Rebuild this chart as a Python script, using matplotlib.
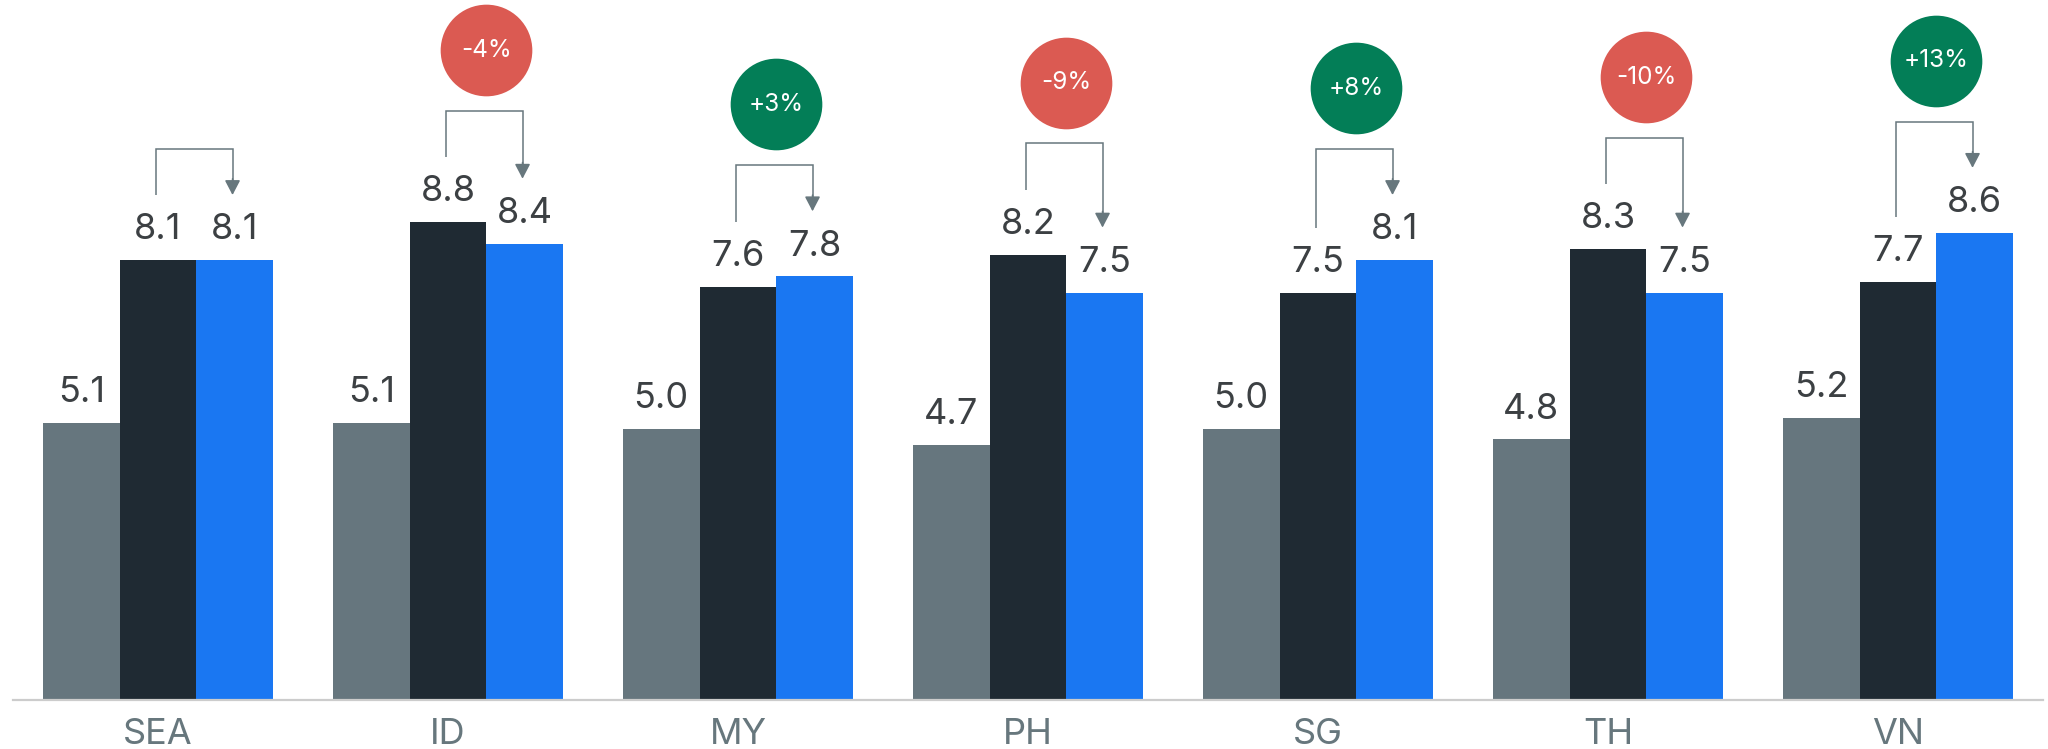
import matplotlib
matplotlib.use("Agg")
import matplotlib.pyplot as plt
import numpy as np

# ---- data ----
categories = ['SEA', 'ID', 'MY', 'PH', 'SG', 'TH', 'VN']
series_gray = [5.1, 5.1, 5.0, 4.7, 5.0, 4.8, 5.2]
series_dark = [8.1, 8.8, 7.6, 8.2, 7.5, 8.3, 7.7]
series_blue = [8.1, 8.4, 7.8, 7.5, 8.1, 7.5, 8.6]
change_labels = ['', '-4%', '+3%', '-9%', '+8%', '-10%', '+13%']

# ---- style ----
plt.rcParams['font.family'] = ['Inter', 'DejaVu Sans']
C_GRAY = '#66767e'
C_DARK = '#1f2a33'
C_BLUE = '#1a77f2'
C_RED = '#db5a52'
C_GREEN = '#037e57'
C_ARROW = '#67777d'
C_LABEL = '#3c4043'
C_TICK = '#67777d'

W, H = 2048, 749
fig = plt.figure(figsize=(W / 100, H / 100), dpi=100)
ax = fig.add_axes([13 / W, 49 / H, 2030 / W, 700 / H])

x = np.arange(len(categories))
bw = 0.265

for off, vals, col in [(-1, series_gray, C_GRAY), (0, series_dark, C_DARK), (1, series_blue, C_BLUE)]:
    xs = x + off * bw
    ax.bar(xs, vals, width=bw, color=col, linewidth=0)
    for xi, v in zip(xs, vals):
        ax.annotate(f'{v:.1f}', xy=(xi, v), xytext=(0, 15), textcoords='offset points',
                    ha='center', va='baseline', fontsize=26, color=C_LABEL)

# brackets + badges
shift = -0.008
for i, (a, b, lab) in enumerate(zip(series_dark, series_blue, change_labels)):
    x0 = x[i] + shift
    x1 = x[i] + bw + shift
    y0 = a + 1.2
    yt = b + 1.2
    yh = max(a, b) + 2.05
    ax.plot([x0, x0, x1, x1], [y0, yh, yh, yt + 0.2], color=C_ARROW, lw=1.1,
            solid_joinstyle='miter', solid_capstyle='butt', zorder=3)
    ax.annotate('', xy=(x1, yt), xytext=(x1, yt + 0.3),
                arrowprops=dict(arrowstyle='-|>,head_length=0.9,head_width=0.47',
                                mutation_scale=10, color=C_ARROW, lw=1.1,
                                shrinkA=0, shrinkB=0), zorder=3)
    if lab:
        col = C_GREEN if lab.startswith('+') else C_RED
        xb = x[i] + bw / 2
        yb = yh + 1.12
        ax.scatter([xb], [yb], s=66 ** 2, color=col, linewidths=0, zorder=4)
        ax.text(xb, yb, lab, ha='center', va='center', fontsize=17.5,
                color='white', zorder=5)

ax.set_xlim(-0.5, len(categories) - 0.5)
ax.set_ylim(0, 700 / 54.3)
ax.set_xticks(x)
ax.set_xticklabels(categories, fontsize=26, color=C_TICK)
ax.tick_params(axis='x', length=0, pad=13)
ax.set_yticks([])
for s in ['top', 'right', 'left']:
    ax.spines[s].set_visible(False)
ax.spines['bottom'].set_color('#cccccc')
ax.spines['bottom'].set_linewidth(1.6)
ax.patch.set_alpha(0)

fig.savefig('out.png', dpi=100)
